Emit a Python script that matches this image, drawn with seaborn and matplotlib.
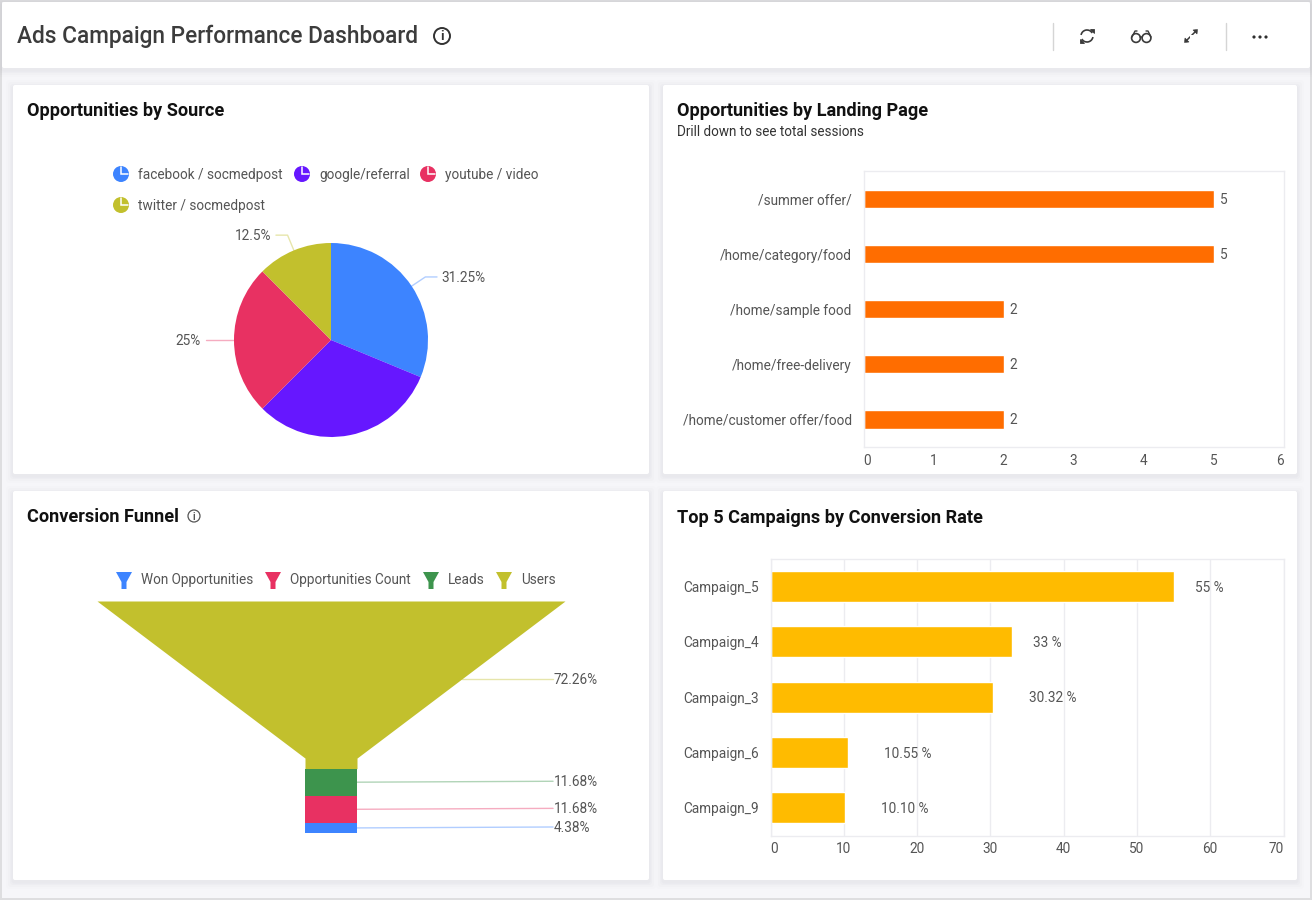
import numpy as np
import matplotlib
matplotlib.use("Agg")
import matplotlib.pyplot as plt
from matplotlib.patches import Rectangle, Circle, Polygon, Arc, FancyBboxPatch
from matplotlib.transforms import ScaledTranslation
import seaborn as sns

# ---------- data ----------
pie_sources = ["facebook / socmedpost", "google/referral", "youtube / video", "twitter / socmedpost"]
pie_values = [31.25, 31.25, 25, 12.5]
pie_labels = ["31.25%", "", "25%", "12.5%"]

landing_pages = ["/summer offer/", "/home/category/food", "/home/sample food", "/home/free-delivery", "/home/customer offer/food"]
landing_values = [5, 5, 2, 2, 2]

funnel_stages = ["Users", "Leads", "Opportunities Count", "Won Opportunities"]
funnel_values = [72.26, 11.68, 11.68, 4.38]

campaigns = ["Campaign_5", "Campaign_4", "Campaign_3", "Campaign_6", "Campaign_9"]
campaign_values = [55, 33, 30.32, 10.55, 10.10]
campaign_labels = ["55 %", "33 %", "30.32 %", "10.55 %", "10.10 %"]

# ---------- style ----------
BLUE, PURPLE, RED, OLIVE, GREEN = "#3D84FF", "#6617FF", "#E83162", "#C2C02D", "#3D944D"
ORANGE, AMBER = "#FF6D00", "#FFBB00"
TXT, DARK, GRID = "#555555", "#111111", "#ECECF0"
pie_colors = [BLUE, PURPLE, RED, OLIVE]
funnel_colors = {"Users": OLIVE, "Leads": GREEN, "Opportunities Count": RED, "Won Opportunities": BLUE}

sns.set_theme(style="white")
plt.rcParams["font.family"] = ["Roboto", "DejaVu Sans"]
W, H = 1312, 900
BODY = 9.8
fig = plt.figure(figsize=(W / 100, H / 100), dpi=100, facecolor="#F6F6F9")
DOWN1 = ScaledTranslation(0, -1 / 100, fig.dpi_scale_trans)


def px_axes(x0, y0, x1, y1, z=2):
    return fig.add_axes([x0 / W, 1 - y1 / H, (x1 - x0) / W, (y1 - y0) / H], zorder=z)


# ---------- page furniture ----------
bg = px_axes(0, 0, W, H, z=0)
bg.set_xlim(0, W)
bg.set_ylim(H, 0)
bg.axis("off")
for r in [(0, 0, W, 2), (0, 898, W, 2), (0, 0, 2, H), (1310, 0, 2, H)]:
    bg.add_patch(Rectangle(r[:2], r[2], r[3], fc="#DEDEE0", ec="none"))


def card(x0, y0, x1, y1):
    for grow, alpha in [(7, 0.008), (5, 0.01), (3, 0.014), (1.5, 0.02)]:
        bg.add_patch(FancyBboxPatch((x0 - grow, y0 - grow + 2), x1 - x0 + 2 * grow, y1 - y0 + 2 * grow,
                                    boxstyle="round,pad=0,rounding_size=3", fc="#30304A", alpha=alpha, ec="none"))
    bg.add_patch(FancyBboxPatch((x0, y0), x1 - x0, y1 - y0, boxstyle="round,pad=0,rounding_size=2",
                                fc="white", ec="none"))


card(2, 2, 1310, 68)
card(13, 85, 649, 474)
card(663, 85, 1297, 474)
card(13, 491, 649, 880)
card(663, 491, 1297, 880)

ov = px_axes(0, 0, W, H, z=5)
ov.set_xlim(0, W)
ov.set_ylim(H, 0)
ov.axis("off")
ov.patch.set_alpha(0)

ov.text(17, 36, "Ads Campaign Performance Dashboard", fontsize=16.3, color="#3C3C3C", va="center", fontweight="medium")
for x, t, y in [(27, "Opportunities by Source", 111), (677, "Opportunities by Landing Page", 111),
                (27, "Conversion Funnel", 517), (677, "Top 5 Campaigns by Conversion Rate", 518)]:
    ov.text(x, y, t, fontsize=13.1, color=DARK, va="center", fontweight="bold")
ov.text(677, 132, "Drill down to see total sessions", fontsize=BODY - 0.05, color="#333333", va="center")


def info(x, y, r, c, lw, fs):
    ov.add_patch(Circle((x, y), r, fc="none", ec=c, lw=lw))
    ov.text(x, y + 0.5, "i", fontsize=fs, color=c, ha="center", va="center", fontweight="bold")


info(442, 36, 8, "#333333", 1.4, 9.5)
info(194, 516, 6, "#555555", 0.9, 7)

# toolbar icons
ic = "#3A3A3A"
for x in (1053, 1226):
    ov.plot([x, x], [23, 50], color="#D5D5D5", lw=1)
ov.add_patch(Arc((1087, 36), 12, 12, theta1=190, theta2=330, ec=ic, lw=1.2))
ov.add_patch(Arc((1087, 36), 12, 12, theta1=10, theta2=150, ec=ic, lw=1.2))
ov.add_patch(Polygon([(1090, 29), (1094, 29), (1094, 33)], fc=ic, ec=ic, lw=0.6))
ov.add_patch(Polygon([(1084, 43), (1080, 43), (1080, 39)], fc=ic, ec=ic, lw=0.6))
for x in (1136, 1146.5):
    ov.add_patch(Circle((x, 38), 4.4, fc="none", ec=ic, lw=1.2))
ov.plot([1140.4, 1142.1], [37, 37], color=ic, lw=1.1)
ov.plot([1132, 1135, 1137], [37, 31, 31], color=ic, lw=1.0)
ov.plot([1151, 1148, 1146], [37, 31, 31], color=ic, lw=1.0)
ov.plot([1186, 1196], [41, 31], color=ic, lw=1.1)
ov.add_patch(Rectangle((1189.5, 34.5), 3, 3, fc="white", ec="none", zorder=3))
ov.add_patch(Polygon([(1193, 30), (1197.5, 29.5), (1197, 34)], fc=ic, ec=ic, lw=0.4, zorder=4))
ov.add_patch(Polygon([(1189, 42), (1184.5, 42.5), (1185, 38)], fc=ic, ec=ic, lw=0.4, zorder=4))
for x in (1254, 1260, 1266):
    ov.add_patch(Circle((x, 37), 1.6, fc="#2F2F2F", ec="none"))

# ---------- pie ----------
R_PX = 97
pie_ax = px_axes(331 - 1.4 * R_PX, 340 - 1.4 * R_PX, 331 + 1.4 * R_PX, 340 + 1.4 * R_PX)
wedges, _ = pie_ax.pie(pie_values, colors=pie_colors, startangle=90, counterclock=False, radius=1,
                       wedgeprops=dict(linewidth=0))
pie_ax.set_xlim(-1.4, 1.4)
pie_ax.set_ylim(-1.4, 1.4)
for w, lab, col in zip(wedges, pie_labels, pie_colors):
    if not lab:
        continue
    a = np.deg2rad((w.theta1 + w.theta2) / 2)
    cx, cy = np.cos(a), np.sin(a)
    sgn = 1 if cx > 1e-6 else -1
    xs = [cx, 1.17 * cx, 1.17 * cx + sgn * 0.12]
    ys = [cy, 1.17 * cy, 1.17 * cy]
    pie_ax.plot(xs, ys, color=col, alpha=0.4, lw=1, clip_on=False)
    pie_ax.text(xs[-1] + sgn * 0.05, ys[-1], lab, fontsize=BODY, color=TXT,
                ha="left" if sgn > 0 else "right", va="center", clip_on=False,
                transform=pie_ax.transData + DOWN1)

pie_legend_pos = [(121, 174), (302, 174), (428, 174), (121, 205)]
for (x, y), name, col in zip(pie_legend_pos, pie_sources, pie_colors):
    ov.add_patch(Circle((x, y), 8, fc=col, ec="none"))
    ov.plot([x, x, x + 7], [y - 7, y, y], color="white", lw=1.1, solid_joinstyle="miter")
    ov.text(x + 17, y + 0.7, name, fontsize=BODY, color=TXT, va="center")


# ---------- horizontal bars ----------
def hbars(box, cats, vals, color, bar_w, xmax, step, grid):
    ax = px_axes(*box)
    sns.barplot(x=vals, y=cats, color=color, width=bar_w, saturation=1, ax=ax, orient="h")
    ax.set_xlim(0, xmax)
    ax.set_ylim(len(cats) - 0.5, -0.5)
    ax.set_xlabel("")
    ax.set_ylabel("")
    for s in ax.spines.values():
        s.set_color(GRID)
        s.set_linewidth(1)
    ticks = np.arange(0, xmax + step, step)
    ax.set_xticks(ticks)
    ax.set_xticklabels([str(int(t)) for t in ticks])
    ax.tick_params(axis="x", length=0, pad=5, labelsize=BODY, labelcolor=TXT)
    ax.tick_params(axis="y", which="major", length=0, pad=8.5, labelsize=BODY, labelcolor=TXT)
    ax.set_yticks(np.arange(len(cats) + 1) - 0.5, minor=True)
    ax.tick_params(axis="y", which="minor", length=5, width=1, color=GRID)
    labs = ax.get_xticklabels()
    labs[0].set_ha("left")
    labs[-1].set_ha("right")
    ax.grid(False)
    if grid:
        ax.xaxis.grid(True, color=GRID, lw=1)
        ax.set_axisbelow(True)
    return ax


ax1 = hbars((863.5, 171.5, 1283.5, 447), landing_pages, landing_values, ORANGE, 0.33, 6, 1, False)
for i, v in enumerate(landing_values):
    ax1.annotate(str(v), (v, i), xytext=(4.5, -0.7), textcoords="offset points", fontsize=BODY, color=TXT, va="center")

ax2 = hbars((770.5, 559, 1283.5, 835.5), campaigns, campaign_values, AMBER, 0.56, 70, 10, True)
for i, (v, lab) in enumerate(zip(campaign_values, campaign_labels)):
    ax2.annotate(lab, (v, i), xytext=((1 + 5 * len(lab)) * 0.72, -0.7), textcoords="offset points",
                 fontsize=BODY, color=TXT, va="center")

# ---------- funnel ----------
NECK_W, NECK_START = 1 / 9, 67.7
fn = px_axes(97, 601, 565, 833)
fn.set_xlim(-1, 1)
fn.set_ylim(100, 0)
fn.axis("off")
fn.patch.set_alpha(0)


def half_width(p):
    return 1 - (1 - NECK_W) * p / NECK_START if p < NECK_START else NECK_W


edges = np.concatenate([[0], np.cumsum(funnel_values)])
for i, stage in enumerate(funnel_stages):
    p0, p1 = edges[i], edges[i + 1]
    pts = [p0] + ([NECK_START] if p0 < NECK_START < p1 else []) + [p1]
    hw = [half_width(p) for p in pts]
    fn.fill_betweenx(pts, [-h for h in hw], hw, color=funnel_colors[stage], lw=0)

    mid = (p0 + p1) / 2 if i else 33.6
    end = 0.949
    end_y = mid - (0.4 if i else 0)
    fn.plot([half_width(mid), end], [mid, end_y], color=funnel_colors[stage], alpha=0.4, lw=1)
    fn.text(end + 0.002, end_y, f"{funnel_values[i]:.2f}%", fontsize=BODY, color=TXT, va="center", clip_on=False,
            transform=fn.transData + DOWN1)

funnel_legend = [("Won Opportunities", 124), ("Opportunities Count", 273), ("Leads", 431), ("Users", 504)]
for name, x in funnel_legend:
    ov.add_patch(Polygon([(x - 8, 572), (x + 8, 572), (x + 2.5, 582), (x + 2.5, 589), (x - 2.5, 589), (x - 2.5, 582)],
                         fc=funnel_colors[name], ec="none"))
    ov.text(x + 17, 580, name, fontsize=BODY, color=TXT, va="center")

fig.savefig("out.png", dpi=100, facecolor=fig.get_facecolor())
